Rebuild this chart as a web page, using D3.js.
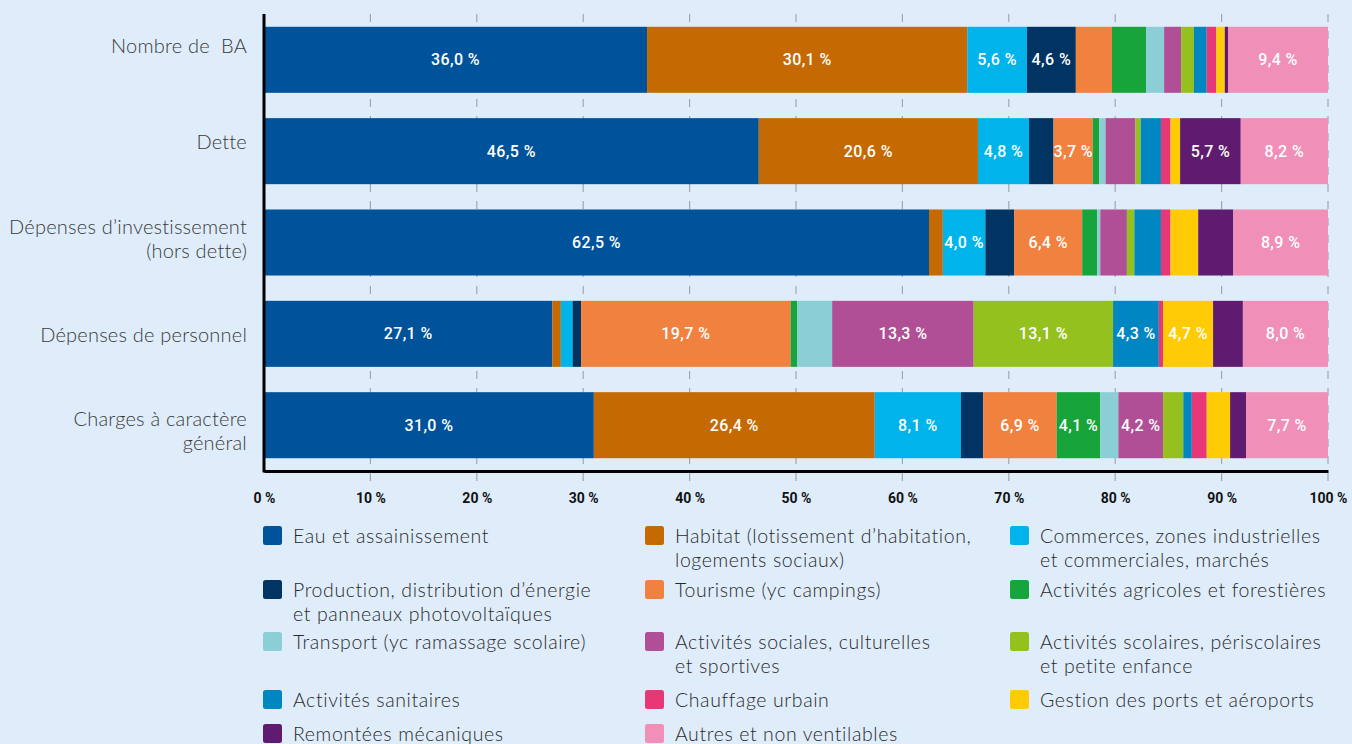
<!DOCTYPE html>
<html>
<head>
<meta charset="utf-8">
<script src="https://cdn.jsdelivr.net/npm/d3@7"></script>
<style>
  html, body { margin: 0; padding: 0; background: #dfedfb; }
  svg { display: block; }
  .cat { font-family: Lato, "Open Sans", sans-serif; font-weight: 300; font-size: 20px; letter-spacing: 0.2px; fill: #3a3a3a; white-space: pre; }
  .leg { font-family: Lato, "Open Sans", sans-serif; font-weight: 300; font-size: 19.5px; letter-spacing: 0.6px; fill: #2a2a2a; }
  .val { font-family: Roboto, sans-serif; font-weight: 500; font-size: 16px; letter-spacing: 0.4px; fill: #fff; }
  .tick-lbl { font-family: Roboto, sans-serif; font-weight: 700; font-size: 14px; fill: #111; }
</style>
</head>
<body>
<svg id="chart" width="1352" height="744"></svg>
<script>
// rows of the chart (top to bottom)
const categories = [
  "Nombre de  BA",
  "Dette",
  "Dépenses d’investissement\n(hors dette)",
  "Dépenses de personnel",
  "Charges à caractère\ngénéral"
];

// series, in stacking order
const seriesNames = [
  "Eau et assainissement",
  "Habitat (lotissement d’habitation,\nlogements sociaux)",
  "Commerces, zones industrielles\net commerciales, marchés",
  "Production, distribution d’énergie\net panneaux photovoltaïques",
  "Tourisme (yc campings)",
  "Activités agricoles et forestières",
  "Transport (yc ramassage scolaire)",
  "Activités sociales, culturelles\net sportives",
  "Activités scolaires, périscolaires\net petite enfance",
  "Activités sanitaires",
  "Chauffage urbain",
  "Gestion des ports et aéroports",
  "Remontées mécaniques",
  "Autres et non ventilables"
];

const seriesColors = [
  "#00539b", "#c56a03", "#00b3eb", "#013462", "#f0813f", "#17a43a", "#8bced6",
  "#b04f95", "#95c11f", "#0087c1", "#e83777", "#ffcb05", "#5f1b6f", "#f08fb8"
];

// shares in %, one value per series, same order as seriesNames
const nombreBA     = [36.0, 30.1, 5.6, 4.6, 3.4, 3.2, 1.7, 1.6, 1.2, 1.2, 0.9, 0.8, 0.3, 9.4];
const dette        = [46.5, 20.6, 4.8, 2.3, 3.7, 0.6, 0.6, 2.8, 0.5, 1.9, 0.9, 0.9, 5.7, 8.2];
const investissement = [62.5, 1.3, 4.0, 2.7, 6.4, 1.4, 0.3, 2.5, 0.7, 2.5, 0.9, 2.6, 3.3, 8.9];
const personnel    = [27.1, 0.8, 1.1, 0.8, 19.7, 0.6, 3.3, 13.3, 13.1, 4.3, 0.4, 4.7, 2.8, 8.0];
const charges      = [31.0, 26.4, 8.1, 2.1, 6.9, 4.1, 1.7, 4.2, 1.9, 0.8, 1.4, 2.2, 1.5, 7.7];
const rowValues = [nombreBA, dette, investissement, personnel, charges];

const xTicks = [0, 10, 20, 30, 40, 50, 60, 70, 80, 90, 100];
const labelMin = 3.5; // segments narrower than this carry no value label

const svg = d3.select("#chart");
const plotL = 264, plotR = 1328, plotT = 14, plotB = 471;

const x = d3.scaleLinear().domain([0, 100]).range([plotL, plotR]);
const y = d3.scaleBand().domain(categories).range([plotT, plotB])
  .paddingInner(0.277).paddingOuter(0.14);
// the row titles sit on their own, slightly wider spacing
const yLabel = d3.scalePoint().domain(categories).range([46, 431]);

const fmt = v => d3.format(".1f")(v).replace(".", ",") + " %";

// build a table for d3.stack
const table = categories.map((c, i) => {
  const row = {cat: c};
  seriesNames.forEach((s, j) => row[s] = rowValues[i][j]);
  return row;
});
const stacked = d3.stack().keys(seriesNames)(table);

// grid
svg.append("g")
  .selectAll("line")
  .data(xTicks.filter(t => t > 0))
  .join("line")
    .attr("x1", d => x(d)).attr("x2", d => x(d))
    .attr("y1", plotT).attr("y2", plotB + 14)
    .attr("stroke", "#a3a7ab")
    .attr("stroke-width", 1.2)
    .attr("stroke-dasharray", "8,9");

// bars
const layers = svg.append("g")
  .selectAll("g")
  .data(stacked)
  .join("g")
    .attr("fill", (d, i) => seriesColors[i]);

layers.selectAll("rect")
  .data(d => d)
  .join("rect")
    .attr("x", d => x(d[0]))
    .attr("y", d => y(d.data.cat))
    .attr("width", d => x(d[1]) - x(d[0]))
    .attr("height", y.bandwidth());

layers.selectAll("text")
  .data(d => d.filter(s => s[1] - s[0] >= labelMin))
  .join("text")
    .attr("class", "val")
    .attr("x", d => (x(d[0]) + x(d[1])) / 2)
    .attr("y", d => y(d.data.cat) + y.bandwidth() / 2)
    .attr("text-anchor", "middle")
    .attr("dominant-baseline", "central")
    .text(d => fmt(d[1] - d[0]));

// axes
const xAxis = svg.append("g")
  .attr("transform", `translate(0,${plotB})`)
  .call(d3.axisBottom(x).tickValues(xTicks).tickSize(0).tickPadding(22).tickFormat(d => d + " %"));
xAxis.select(".domain").attr("stroke", "#000").attr("stroke-width", 3);
xAxis.selectAll("text").attr("class", "tick-lbl").attr("font-size", null).attr("font-family", null).attr("fill", null);

svg.append("line")
  .attr("x1", plotL).attr("x2", plotL)
  .attr("y1", plotT).attr("y2", plotB + 1.5)
  .attr("stroke", "#000").attr("stroke-width", 3);

// row titles
svg.append("g")
  .selectAll("text")
  .data(categories)
  .join("text")
    .attr("class", "cat")
    .attr("text-anchor", "end")
    .attr("x", 247)
    .attr("y", d => yLabel(d) - (d.split("\n").length - 1) * 12)
    .each(function(d) {
      const lines = d.split("\n");
      d3.select(this).selectAll("tspan")
        .data(lines)
        .join("tspan")
          .attr("x", 247)
          .attr("dy", (l, i) => i === 0 ? "0.35em" : 24)
          .text(l => l);
    });

// legend: three columns, filled row by row
const legCols = [263, 645, 1010];
const legRows = [537, 591, 643, 701, 735];
const legend = svg.append("g")
  .selectAll("g")
  .data(seriesNames)
  .join("g")
    .attr("transform", (d, i) => `translate(${legCols[i % 3]},${legRows[Math.floor(i / 3)]})`);

legend.append("rect")
  .attr("x", 0).attr("y", -11)
  .attr("width", 19).attr("height", 19)
  .attr("rx", 2.5)
  .attr("fill", (d, i) => seriesColors[i]);

legend.append("text")
  .attr("class", "leg")
  .each(function(d) {
    d3.select(this).selectAll("tspan")
      .data(d.split("\n"))
      .join("tspan")
        .attr("x", 30)
        .attr("y", (l, i) => i * 24)
        .attr("dy", "0.32em")
        .text(l => l);
  });
</script>
</body>
</html>
